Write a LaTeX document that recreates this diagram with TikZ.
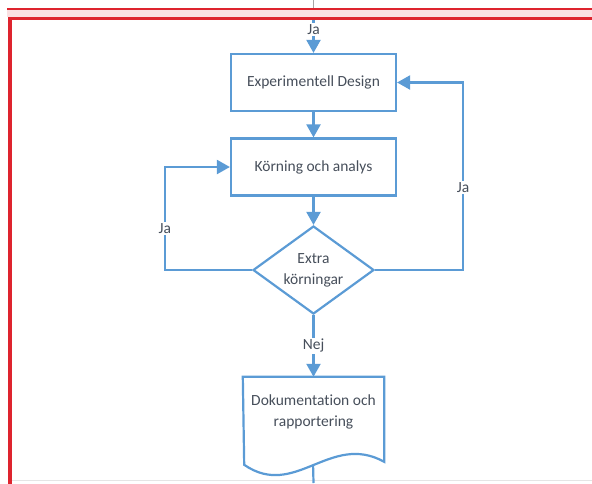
\documentclass[tikz,border=0pt]{standalone}
\usepackage{fontspec}
\setmainfont[Ligatures=NoCommon]{Carlito}
\usetikzlibrary{arrows.meta, positioning, shapes.geometric}

\definecolor{flowblue}{RGB}{91,155,213}
\definecolor{flowtext}{RGB}{70,78,90}
\definecolor{framered}{RGB}{222,36,46}
\definecolor{framepink}{RGB}{250,224,226}

\begin{document}
\begin{tikzpicture}[x=1pt, y=-1pt,
	every node/.style={font=\fontsize{15.5}{21}\selectfont, text=flowtext},
	flow/.style={color=flowblue, line width=2.2pt},
	flowarrow/.style={flow, -{Triangle[width=14pt,length=13pt]}},
	process/.style={rectangle, draw=flowblue, line width=2.2pt, minimum width=165pt, minimum height=57pt},
	decision/.style={diamond, draw=flowblue, line width=2.2pt, aspect=1.4, inner sep=-6pt, minimum width=121pt, minimum height=88pt, align=center},
	tag/.style={fill=white, inner sep=1.5pt}]
	\useasboundingbox (0,0) rectangle (592,483);

	% frame of the screenshot
	\draw[black!35, line width=1pt] (313,0) -- (313,17);
	\fill[framepink] (7,9) rectangle (592,17);
	\draw[framered, line width=1.5pt] (7,9) -- (592,9);
	\draw[framered, line width=3.5pt] (10,490) -- (10,18.5) -- (600,18.5);
	\draw[black!10, line width=1pt] (12,480) -- (592,480);

	\node[process] (design) at (313.5,82.5) {Experimentell Design};
	\node[process] (run) at (313.5,167) {Körning och analys};
	\node[decision] (extra) at (313.5,270) {Extra\\körningar};
	\node[align=center, minimum width=141pt, minimum height=70pt, inner sep=0pt] (doc) at (313.5,412) {Dokumentation och\\rapportering};
	\coordinate (entry) at (313.5,20);
	\coordinate (exit) at (313.5,483);

	% document shape
	\draw[flow] (doc.north west) -- (doc.north east) -- ++(0,85)
		.. controls +(-54,-30) and +(51,35) .. ++(-140,3) coordinate[pos=0.5] (docbase)
		-- cycle;

	\path[flowarrow]
	(entry) edge node[tag, pos=0.3] {Ja} (design)
	(design) edge (run)
	(run) edge (extra)
	(extra) edge node[tag] {Nej} (doc.north)
	;
	\draw[flowarrow] (extra.west) -- ++(-87,0) |- node[tag, pos=0.2] {Ja} (run.west);
	\draw[flowarrow] (extra.east) -- ++(88,0) |- node[tag, pos=0.22] {Ja} (design.east);
	\draw[flow] (docbase) -- (exit);
\end{tikzpicture}
\end{document}
